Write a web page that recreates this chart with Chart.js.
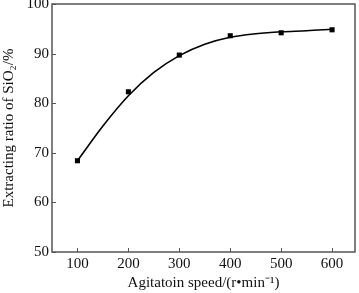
<!DOCTYPE html>
<html><head><meta charset="utf-8">
<script src="https://cdn.jsdelivr.net/npm/chart.js@4/dist/chart.umd.min.js"></script>
<style>html,body{margin:0;padding:0;background:#fff}#wrap{width:359px;height:293px}</style>
</head><body><div id="wrap"><canvas id="c" width="359" height="293"></canvas></div>
<script>
const speeds = [100, 200, 300, 400, 500, 600];
const ratios = [68.4, 82.3, 89.7, 93.6, 94.2, 94.8];
const fitSpeeds = [100, 150, 200, 250, 300, 350, 400, 450, 500, 550, 600];
const fitRatios = [68.4, 75.4, 81.5, 86.2, 89.6, 91.9, 93.3, 94.0, 94.4, 94.6, 94.9];
const xTicks = [100, 200, 300, 400, 500, 600];
const yTicks = [50, 60, 70, 80, 90, 100];

const font = {family: '"Liberation Serif", "Times New Roman", serif', size: 15};
const axisColor = '#555';

const framePlugin = {
  id: 'frame',
  afterDraw(chart) {
    const {ctx, chartArea: a, scales: {x, y}} = chart;
    ctx.save();
    ctx.strokeStyle = axisColor;
    ctx.lineWidth = 1.5;
    ctx.strokeRect(a.left, a.top, a.right - a.left, a.bottom - a.top);
    ctx.lineWidth = 1;
    ctx.beginPath();
    xTicks.forEach(v => { const px = Math.round(x.getPixelForValue(v)) + 0.5; ctx.moveTo(px, a.bottom); ctx.lineTo(px, a.bottom - 4); });
    yTicks.forEach(v => { const py = Math.round(y.getPixelForValue(v)) + 0.5; ctx.moveTo(a.left, py); ctx.lineTo(a.left + 4, py); });
    ctx.stroke();
    ctx.restore();
  }
};

new Chart(document.getElementById('c'), {
  type: 'scatter',
  data: {
    datasets: [
      {
        type: 'line',
        data: fitSpeeds.map((s, i) => ({x: s, y: fitRatios[i]})),
        borderColor: '#000', borderWidth: 1.6, pointRadius: 0,
        cubicInterpolationMode: 'monotone', fill: false
      },
      {
        data: speeds.map((s, i) => ({x: s, y: ratios[i]})),
        pointStyle: 'rect', pointRadius: 3.6, backgroundColor: '#000', borderColor: '#000', borderWidth: 0
      }
    ]
  },
  plugins: [framePlugin],
  options: {
    responsive: false, animation: false, devicePixelRatio: 1,
    layout: {padding: {top: 4, right: 1, bottom: 0, left: 0}},
    plugins: {legend: {display: false}, tooltip: {enabled: false}},
    scales: {
      x: {
        type: 'linear', min: 50, max: 645,
        afterBuildTicks(s) { s.ticks = xTicks.map(v => ({value: v})); },
        afterFit(s) { s.height = 41; s.paddingLeft = 0; s.paddingRight = 0; },
        grid: {display: false, drawTicks: false},
        border: {display: false},
        ticks: {font, color: '#111', padding: 3, maxRotation: 0},
        title: {display: true, text: 'Agitatoin speed/(r•min⁻¹)', font, color: '#111', padding: {top: 0, bottom: 1}}
      },
      y: {
        type: 'linear', min: 50, max: 100,
        afterBuildTicks(s) { s.ticks = yTicks.map(v => ({value: v})); },
        afterFit(s) { s.width = 52; s.paddingTop = 0; s.paddingBottom = 0; },
        grid: {display: false, drawTicks: false},
        border: {display: false},
        ticks: {font, color: '#111', padding: 3},
        title: {display: true, text: 'Extracting ratio of SiO₂/%', font, color: '#111', padding: {top: 0, bottom: 0}}
      }
    }
  }
});
</script></body></html>
